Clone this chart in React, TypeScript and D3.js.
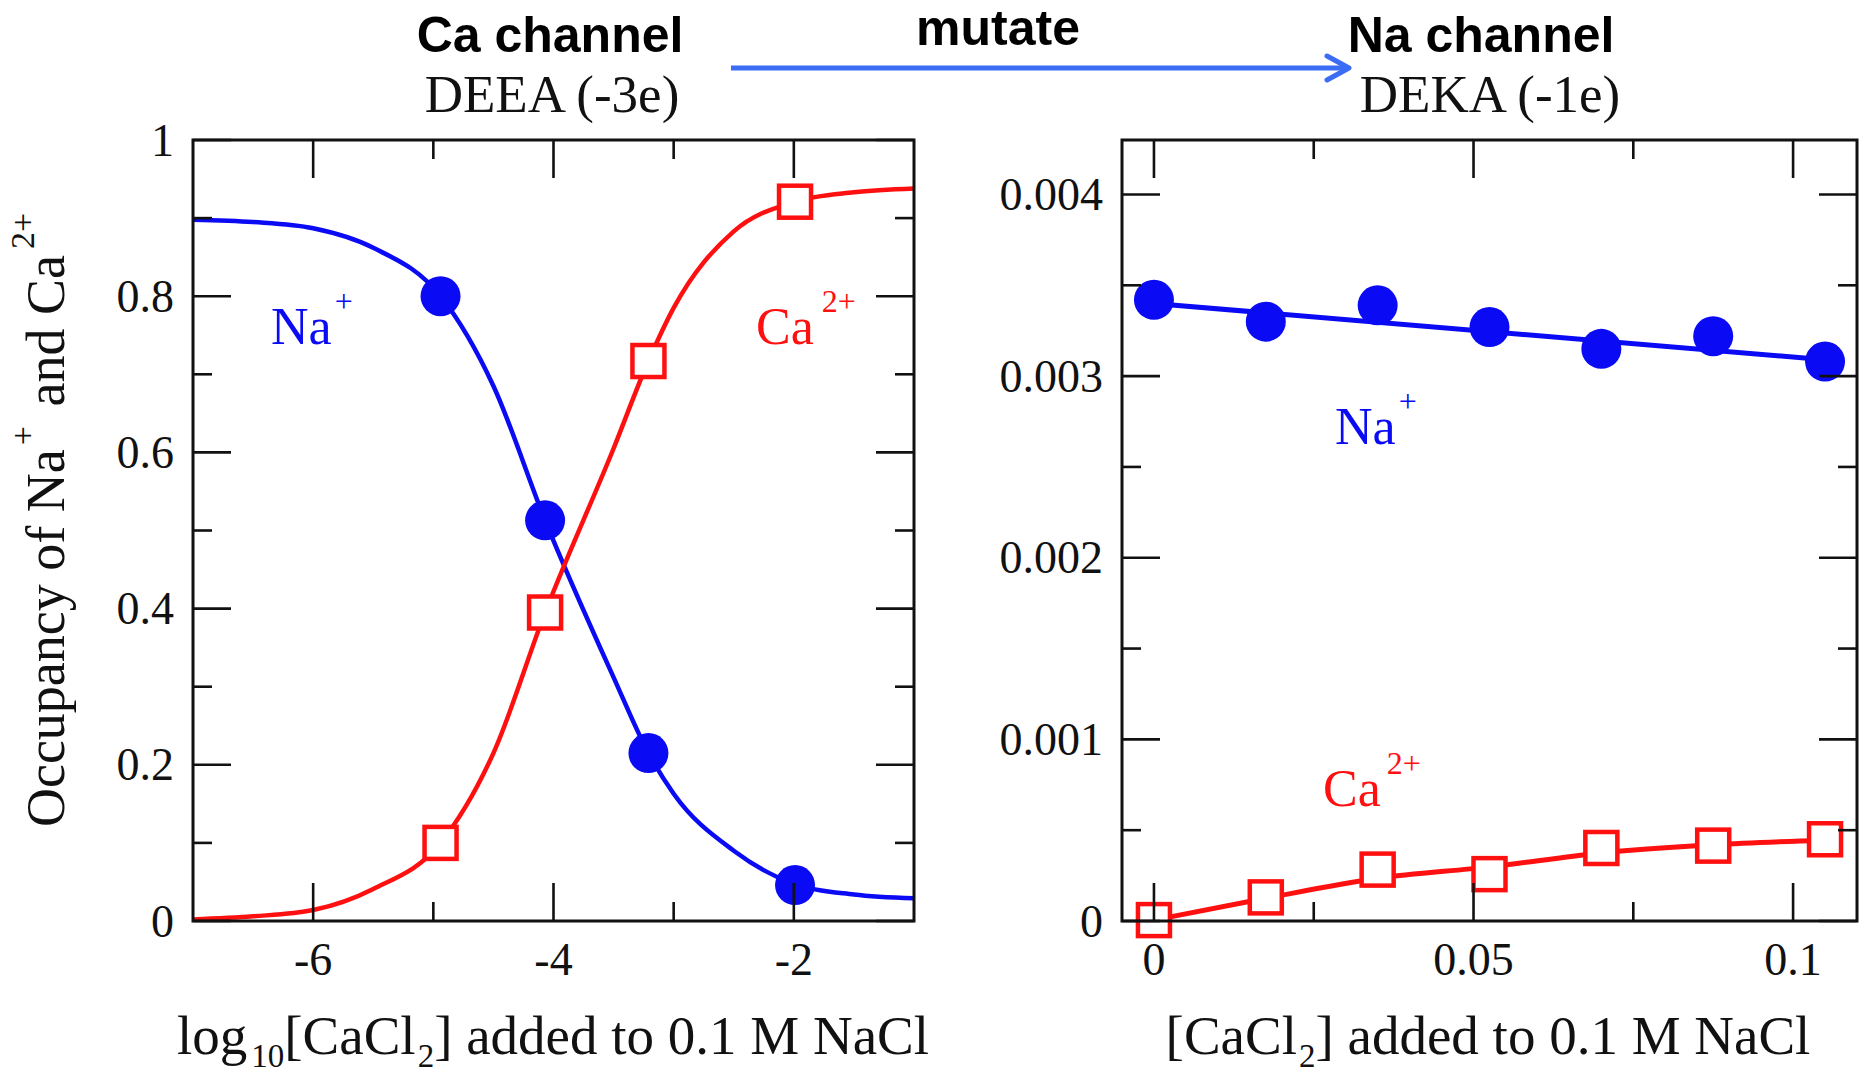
import React from 'react';
import * as d3 from 'd3';

// ---------- tick definitions ----------
const leftXTicksMajor = [-6, -4, -2];
const leftXTickLabels = ['-6', '-4', '-2'];
const leftXTicksMinor = [-5, -3];
const leftYTicksMajor = [0, 0.2, 0.4, 0.6, 0.8, 1];
const leftYTickLabels = ['0', '0.2', '0.4', '0.6', '0.8', '1'];
const leftYTicksMinor = [0.1, 0.3, 0.5, 0.7, 0.9];

const rightXTicksMajor = [0, 0.05, 0.1];
const rightXTickLabels = ['0', '0.05', '0.1'];
const rightXTicksMinor = [0.025, 0.075];
const rightYTicksMajor = [0, 0.001, 0.002, 0.003, 0.004];
const rightYTickLabels = ['0', '0.001', '0.002', '0.003', '0.004'];
const rightYTicksMinor = [0.0005, 0.0015, 0.0025, 0.0035];

// ---------- left panel data (Ca channel, DEEA) ----------
const leftLogConc = [-4.94, -4.07, -3.21, -1.99];
const leftNaOcc = [0.8, 0.513, 0.215, 0.046];
const leftCaOcc = [0.1, 0.395, 0.717, 0.921];
// fitted curves
const leftFitX = [-7, -6.5, -6, -5.5, -4.94, -4.5, -4.07, -3.5, -3.21, -3, -2.5, -1.99, -1.5, -1];
const leftNaFit = [0.898, 0.895, 0.887, 0.862, 0.8, 0.685, 0.513, 0.312, 0.215, 0.163, 0.09, 0.047, 0.034, 0.029];
const leftCaFit = [0.002, 0.006, 0.014, 0.041, 0.1, 0.215, 0.395, 0.605, 0.717, 0.785, 0.883, 0.921, 0.933, 0.938];

// ---------- right panel data (Na channel, DEKA) ----------
const rightConc = [0, 0.0175, 0.035, 0.0525, 0.07, 0.0875, 0.105];
const rightNaOcc = [0.00342, 0.0033, 0.00339, 0.00327, 0.00315, 0.00322, 0.00308];
const rightCaOcc = [0.000005, 0.00013, 0.000283, 0.000258, 0.000402, 0.000415, 0.00045];
const rightNaFitX = [0, 0.105];
const rightNaFit = [0.0034, 0.00309];
const rightCaFit = [0.000005, 0.000125, 0.000235, 0.000298, 0.000375, 0.00042, 0.000445];

const BLUE = '#0a0af5';
const RED = '#ff1010';
const SERIF = '"Liberation Serif", "Times New Roman", serif';
const SANS = '"Liberation Sans", Arial, sans-serif';

const TOP = 140;
const BOTTOM = 921;
const MAJ = 38;
const MIN = 19;

type PanelProps = {
  x0: number; x1: number;
  xDomain: [number, number]; yDomain: [number, number];
  xMajor: number[]; xLabels: string[]; xMinor: number[];
  yMajor: number[]; yLabels: string[]; yMinor: number[];
  children: (x: d3.ScaleLinear<number, number>, y: d3.ScaleLinear<number, number>) => React.ReactNode;
};

function Panel(p: PanelProps) {
  const x = d3.scaleLinear().domain(p.xDomain).range([p.x0, p.x1]);
  const y = d3.scaleLinear().domain(p.yDomain).range([BOTTOM, TOP]);
  const tick = { stroke: '#111', strokeWidth: 2.6 };
  return (
    <g>
      <g>{p.children(x, y)}</g>
      {p.xMajor.map((v, i) => (
        <g key={'xm' + i}>
          <line x1={x(v)} x2={x(v)} y1={BOTTOM} y2={BOTTOM - MAJ} {...tick} />
          <line x1={x(v)} x2={x(v)} y1={TOP} y2={TOP + MAJ} {...tick} />
          <text x={x(v)} y={975} textAnchor="middle" fontFamily={SERIF} fontSize={46} fill="#111">{p.xLabels[i]}</text>
        </g>
      ))}
      {p.xMinor.map((v, i) => (
        <g key={'xn' + i}>
          <line x1={x(v)} x2={x(v)} y1={BOTTOM} y2={BOTTOM - MIN} {...tick} />
          <line x1={x(v)} x2={x(v)} y1={TOP} y2={TOP + MIN} {...tick} />
        </g>
      ))}
      {p.yMajor.map((v, i) => (
        <g key={'ym' + i}>
          <line x1={p.x0} x2={p.x0 + MAJ} y1={y(v)} y2={y(v)} {...tick} />
          <line x1={p.x1} x2={p.x1 - MAJ} y1={y(v)} y2={y(v)} {...tick} />
          <text x={p.x0 - 19} y={y(v)} dy="0.34em" textAnchor="end" fontFamily={SERIF} fontSize={46} fill="#111">{p.yLabels[i]}</text>
        </g>
      ))}
      {p.yMinor.map((v, i) => (
        <g key={'yn' + i}>
          <line x1={p.x0} x2={p.x0 + MIN} y1={y(v)} y2={y(v)} {...tick} />
          <line x1={p.x1} x2={p.x1 - MIN} y1={y(v)} y2={y(v)} {...tick} />
        </g>
      ))}
      <rect x={p.x0} y={TOP} width={p.x1 - p.x0} height={BOTTOM - TOP} fill="none" stroke="#111" strokeWidth={3} />
    </g>
  );
}

function Circles({ xs, ys, x, y }: any) {
  return (
    <g>
      {xs.map((v: number, i: number) => (
        <circle key={i} cx={x(v)} cy={y(ys[i])} r={20} fill={BLUE} />
      ))}
    </g>
  );
}

function Squares({ xs, ys, x, y }: any) {
  const s = 32;
  return (
    <g>
      {xs.map((v: number, i: number) => (
        <rect key={i} x={x(v) - s / 2} y={y(ys[i]) - s / 2} width={s} height={s} fill="#fff" stroke={RED} strokeWidth={4.5} />
      ))}
    </g>
  );
}

export default function App() {
  const lineGen = (x: any, y: any, curve: any) =>
    d3.line<[number, number]>().x((d) => x(d[0])).y((d) => y(d[1])).curve(curve);

  return (
    <svg width={1866} height={1074} style={{ position: 'absolute', left: 0, top: 0, background: '#fff' }}>
      <rect x={0} y={0} width={1866} height={1074} fill="#fff" />

      {/* titles */}
      <text x={550} y={52} textAnchor="middle" fontFamily={SANS} fontWeight="bold" fontSize={50} fill="#000">Ca channel</text>
      <text x={552} y={112} textAnchor="middle" fontFamily={SERIF} fontSize={53} fill="#111">DEEA (-3e)</text>
      <text x={998} y={45} textAnchor="middle" fontFamily={SANS} fontWeight="bold" fontSize={50} fill="#000">mutate</text>
      <text x={1481} y={52} textAnchor="middle" fontFamily={SANS} fontWeight="bold" fontSize={50} fill="#000">Na channel</text>
      <text x={1490} y={112} textAnchor="middle" fontFamily={SERIF} fontSize={53} fill="#111">DEKA (-1e)</text>

      {/* mutate arrow */}
      <line x1={731} x2={1347} y1={68} y2={68} stroke="#3a6cf4" strokeWidth={5} />
      <polyline points="1327,56 1349,68 1327,80" fill="none" stroke="#3a6cf4" strokeWidth={5} strokeLinecap="round" strokeLinejoin="round" />

      {/* left panel */}
      <Panel x0={193} x1={914} xDomain={[-7, -1]} yDomain={[0, 1]}
        xMajor={leftXTicksMajor} xLabels={leftXTickLabels} xMinor={leftXTicksMinor}
        yMajor={leftYTicksMajor} yLabels={leftYTickLabels} yMinor={leftYTicksMinor}>
        {(x, y) => (
          <g>
            <path d={lineGen(x, y, d3.curveMonotoneX)(leftFitX.map((v, i) => [v, leftNaFit[i]]) as any) || ''} fill="none" stroke={BLUE} strokeWidth={4.5} />
            <path d={lineGen(x, y, d3.curveMonotoneX)(leftFitX.map((v, i) => [v, leftCaFit[i]]) as any) || ''} fill="none" stroke={RED} strokeWidth={4.5} />
            <Circles xs={leftLogConc} ys={leftNaOcc} x={x} y={y} />
            <Squares xs={leftLogConc} ys={leftCaOcc} x={x} y={y} />
          </g>
        )}
      </Panel>

      {/* right panel */}
      <Panel x0={1122} x1={1857} xDomain={[-0.005, 0.11]} yDomain={[0, 0.0043]}
        xMajor={rightXTicksMajor} xLabels={rightXTickLabels} xMinor={rightXTicksMinor}
        yMajor={rightYTicksMajor} yLabels={rightYTickLabels} yMinor={rightYTicksMinor}>
        {(x, y) => (
          <g>
            <path d={lineGen(x, y, d3.curveLinear)(rightNaFitX.map((v, i) => [v, rightNaFit[i]]) as any) || ''} fill="none" stroke={BLUE} strokeWidth={5} />
            <path d={lineGen(x, y, d3.curveMonotoneX)(rightConc.map((v, i) => [v, rightCaFit[i]]) as any) || ''} fill="none" stroke={RED} strokeWidth={5} />
            <Circles xs={rightConc} ys={rightNaOcc} x={x} y={y} />
            <Squares xs={rightConc} ys={rightCaOcc} x={x} y={y} />
          </g>
        )}
      </Panel>

      {/* in-plot labels */}
      <text x={271} y={344} fontFamily={SERIF} fontSize={52} fill={BLUE}>Na<tspan dx={3} dy={-32} fontSize={32}>+</tspan></text>
      <text x={756} y={344} fontFamily={SERIF} fontSize={52} fill={RED}>Ca<tspan dx={8} dy={-32} fontSize={32}>2+</tspan></text>
      <text x={1335} y={444} fontFamily={SERIF} fontSize={52} fill={BLUE}>Na<tspan dx={3} dy={-32} fontSize={32}>+</tspan></text>
      <text x={1323} y={806} fontFamily={SERIF} fontSize={52} fill={RED}>Ca<tspan dx={6} dy={-32} fontSize={32}>2+</tspan></text>

      {/* axis labels */}
      <text x={553} y={1054} textAnchor="middle" fontFamily={SERIF} fontSize={55} fill="#111">
        log<tspan dx={4} dy={13} fontSize={33}>10</tspan><tspan dy={-13}>[CaCl</tspan><tspan dx={2} dy={13} fontSize={33}>2</tspan><tspan dy={-13}>] added to 0.1 M NaCl</tspan>
      </text>
      <text x={1488} y={1054} textAnchor="middle" fontFamily={SERIF} fontSize={55} fill="#111">
        [CaCl<tspan dx={2} dy={13} fontSize={33}>2</tspan><tspan dy={-13}>] added to 0.1 M NaCl</tspan>
      </text>
      <text transform="translate(64,520) rotate(-90)" textAnchor="middle" fontFamily={SERIF} fontSize={54} fill="#111">
        Occupancy of Na<tspan dx={4} dy={-30} fontSize={34}>+</tspan><tspan dx={6} dy={30}> and Ca</tspan><tspan dx={6} dy={-30} fontSize={34}>2+</tspan>
      </text>
    </svg>
  );
}
